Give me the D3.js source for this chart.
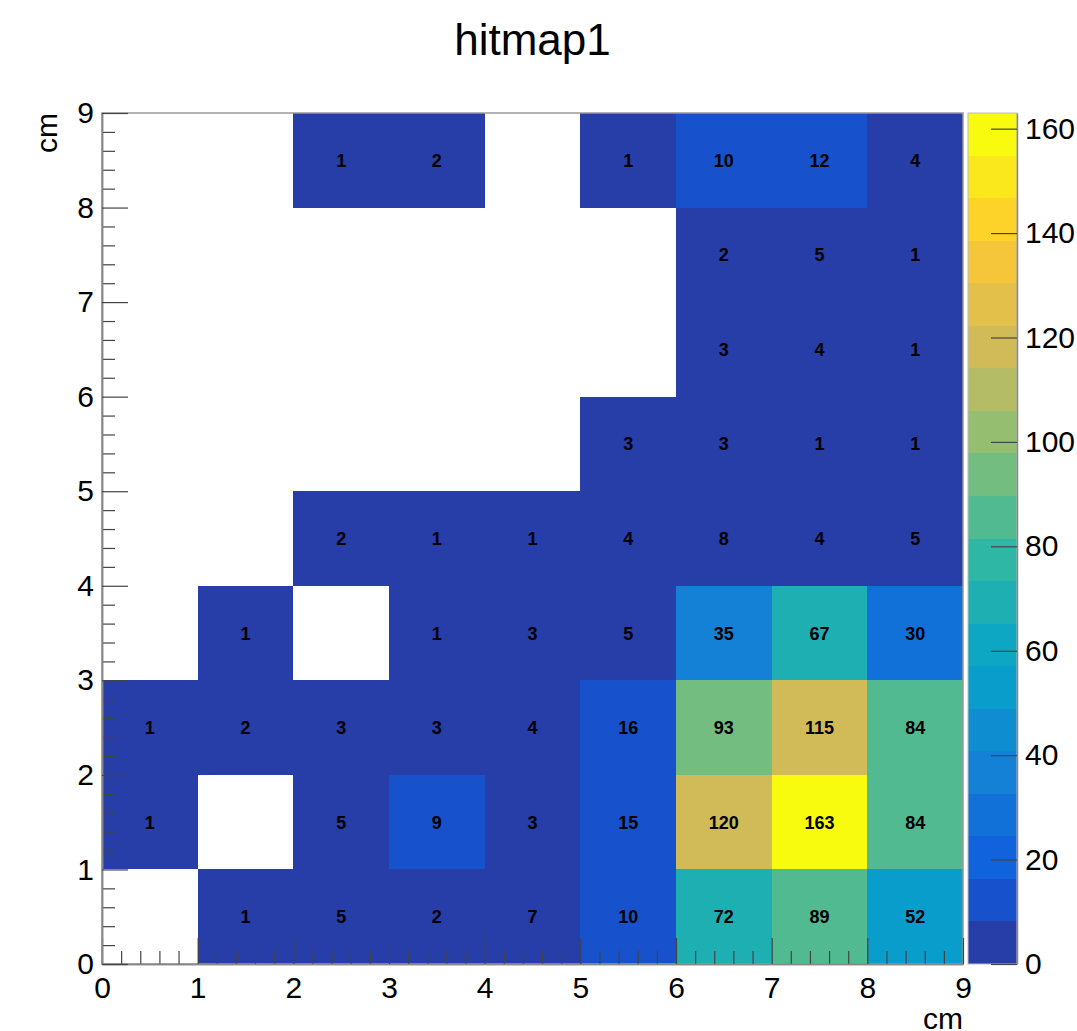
<!DOCTYPE html>
<html>
<head>
<meta charset="utf-8">
<script src="https://cdn.jsdelivr.net/npm/d3@7"></script>
<style>
body { margin: 0; background: #fff; }
svg { display: block; font-family: "Liberation Sans", Arial, sans-serif; }
</style>
</head>
<body>
<svg width="1077" height="1031"></svg>
<script>
var title = "hitmap1"
var xTitle = "cm", yTitle = "cm"
var xTicks = [0, 1, 2, 3, 4, 5, 6, 7, 8, 9]
var yTicks = [0, 1, 2, 3, 4, 5, 6, 7, 8, 9]
var zTicks = [0, 20, 40, 60, 80, 100, 120, 140, 160]
var zMax = 163
var nLevels = 20

// counts[iy][ix], iy = 0 is the bottom row, 0 = empty bin
var counts = [
    [0, 1, 5, 2, 7, 10, 72, 89, 52],
    [1, 0, 5, 9, 3, 15, 120, 163, 84],
    [1, 2, 3, 3, 4, 16, 93, 115, 84],
    [0, 1, 0, 1, 3, 5, 35, 67, 30],
    [0, 0, 2, 1, 1, 4, 8, 4, 5],
    [0, 0, 0, 0, 0, 3, 3, 1, 1],
    [0, 0, 0, 0, 0, 0, 3, 4, 1],
    [0, 0, 0, 0, 0, 0, 2, 5, 1],
    [0, 0, 1, 2, 0, 1, 10, 12, 4]
]

// ROOT kBird palette
var birdStops = [0.0000, 0.1250, 0.2500, 0.3750, 0.5000, 0.6250, 0.7500, 0.8750, 1.0000]
var birdRed   = [0.2082, 0.0592, 0.0780, 0.0232, 0.1802, 0.5301, 0.8186, 0.9956, 0.9764]
var birdGreen = [0.1664, 0.3599, 0.5041, 0.6419, 0.7178, 0.7492, 0.7328, 0.7862, 0.9832]
var birdBlue  = [0.5293, 0.8684, 0.8385, 0.7914, 0.6425, 0.4662, 0.3499, 0.1968, 0.0539]

var svg = d3.select("svg")
var pLeft = 102, pRight = 963, pTop = 113, pBottom = 964
var barLeft = 968, barRight = 1017

var x = d3.scaleLinear().domain([0, 9]).range([pLeft, pRight])
var y = d3.scaleLinear().domain([0, 9]).range([pBottom, pTop])
var zy = d3.scaleLinear().domain([0, zMax]).range([pBottom, pTop])

var bird = d3.scaleLinear().domain(birdStops)
    .range(birdStops.map((s, i) => d3.rgb(birdRed[i] * 255, birdGreen[i] * 255, birdBlue[i] * 255)))
var levelColors = d3.range(nLevels).map(i => bird(Math.floor((i + 0.99) * 255 / nLevels) / 254))
var zColor = d3.scaleQuantize().domain([0, zMax]).range(levelColors)

var cells = []
counts.forEach((row, iy) => {
    row.forEach((v, ix) => {
        if (v > 0) cells.push({ix: ix, iy: iy, v: v})
    })
})

// cells
var g = svg.append("g")
g.selectAll("rect").data(cells)
    .enter().append("rect")
    .attr("x", d => x(d.ix))
    .attr("y", d => y(d.iy + 1))
    .attr("width", d => x(d.ix + 1) - x(d.ix))
    .attr("height", d => y(d.iy) - y(d.iy + 1))
    .attr("fill", d => zColor(d.v))
    .attr("shape-rendering", "crispEdges")

g.selectAll("text").data(cells)
    .enter().append("text")
    .attr("x", d => x(d.ix + 0.5))
    .attr("y", d => y(d.iy + 0.5))
    .attr("dy", "0.36em")
    .attr("text-anchor", "middle")
    .attr("font-size", 18)
    .attr("font-weight", "bold")
    .attr("fill", "#000")
    .text(d => d.v)

// frame
svg.append("rect")
    .attr("x", pLeft).attr("y", pTop)
    .attr("width", pRight - pLeft).attr("height", pBottom - pTop)
    .attr("fill", "none").attr("stroke", "#999").attr("stroke-width", 1.5)

// axes
function minorTicks(n) {
    return d3.range(0, n * 5 + 1).map(i => i / 5).filter(v => Math.abs(v - Math.round(v)) > 1e-6)
}

var xMinor = d3.axisBottom(x).tickValues(minorTicks(9)).tickSizeInner(-13).tickSizeOuter(0).tickFormat("")
var yMinor = d3.axisLeft(y).tickValues(minorTicks(9)).tickSizeInner(-13).tickSizeOuter(0).tickFormat("")
svg.append("g").attr("class", "axis").attr("transform", "translate(0," + pBottom + ")").call(xMinor)
svg.append("g").attr("class", "axis").attr("transform", "translate(" + pLeft + ",0)").call(yMinor)

var xAxis = d3.axisBottom(x).tickValues(xTicks).tickSizeInner(-26).tickSizeOuter(0).tickPadding(13)
var yAxis = d3.axisLeft(y).tickValues(yTicks).tickSizeInner(-26).tickSizeOuter(0).tickPadding(8)
svg.append("g").attr("class", "axis").attr("transform", "translate(0," + pBottom + ")").call(xAxis)
svg.append("g").attr("class", "axis").attr("transform", "translate(" + pLeft + ",0)").call(yAxis)

// colour bar
var levels = d3.range(nLevels)
svg.append("g").selectAll("rect").data(levels)
    .enter().append("rect")
    .attr("x", barLeft)
    .attr("y", i => zy((i + 1) * zMax / nLevels))
    .attr("width", barRight - barLeft)
    .attr("height", i => zy(i * zMax / nLevels) - zy((i + 1) * zMax / nLevels))
    .attr("fill", i => levelColors[i])
    .attr("shape-rendering", "crispEdges")

svg.append("rect")
    .attr("x", barLeft).attr("y", pTop)
    .attr("width", barRight - barLeft).attr("height", pBottom - pTop)
    .attr("fill", "none").attr("stroke", "#bbb").attr("stroke-width", 1)

var zAxis = d3.axisRight(zy).tickValues(zTicks).tickSizeInner(-26).tickSizeOuter(0).tickPadding(8)
svg.append("g").attr("class", "axis").attr("transform", "translate(" + barRight + ",0)").call(zAxis)

svg.selectAll(".axis .domain").attr("stroke", "#888").attr("stroke-width", 1.5)
svg.selectAll(".axis line").attr("stroke", "#444").attr("stroke-width", 1.2)
svg.selectAll(".axis text").attr("font-size", 30).attr("fill", "#000")
    .attr("font-family", "'Liberation Sans', Arial, sans-serif")

// titles
svg.append("text")
    .attr("x", (pLeft + pRight) / 2).attr("y", 55)
    .attr("text-anchor", "middle")
    .attr("font-size", 44)
    .text(title)

svg.append("text")
    .attr("x", pRight).attr("y", 1029)
    .attr("text-anchor", "end")
    .attr("font-size", 30)
    .text(xTitle)

svg.append("text")
    .attr("transform", "translate(57," + pTop + ") rotate(-90)")
    .attr("text-anchor", "end")
    .attr("font-size", 30)
    .text(yTitle)
</script>
</body>
</html>
